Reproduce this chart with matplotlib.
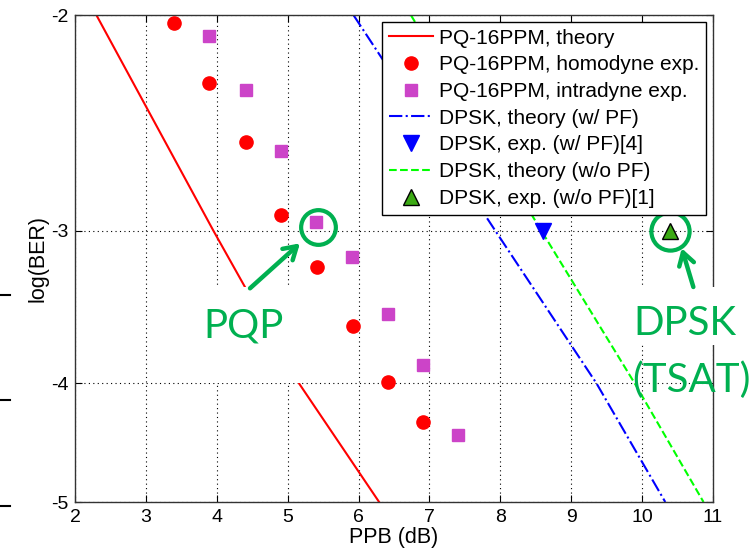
import numpy as np
import matplotlib
matplotlib.use('Agg')
import matplotlib.pyplot as plt
from matplotlib.patches import Rectangle
from matplotlib.lines import Line2D

plt.rcParams['font.family'] = ['Liberation Sans', 'DejaVu Sans']
plt.rcParams['axes.unicode_minus'] = False

# data
ppb_theory = [2.30, 3.95, 5.16, 6.29]
ber_theory = [-2, -3, -4, -5]
ppb_homo = [3.40, 3.89, 4.41, 4.91, 5.41, 5.92, 6.41, 6.91]
ber_homo = [-2.03, -2.27, -2.54, -2.91, -3.21, -3.59, -3.99, -4.30]
ppb_intra = [3.89, 4.41, 4.91, 5.40, 5.91, 6.41, 6.91, 7.40]
ber_intra = [-2.08, -2.30, -2.58, -2.95, -3.15, -3.51, -3.86, -4.41]
ppb_dpsk_pf = [5.93, 7.93, 9.36, 10.33]
ppb_dpsk_nopf = [6.74, 8.58, 9.90, 10.87]
ber_dpsk = [-2, -3, -4, -5]
ppb_exp_pf = [8.6]
ber_exp_pf = [-3.0]
ppb_exp_nopf = [10.4]
ber_exp_nopf = [-3.0]

xticks = [2, 3, 4, 5, 6, 7, 8, 9, 10, 11]
yticks = [-5, -4, -3, -2]

green = '#00B050'


def fwd(y):
    y = np.asarray(y, dtype=float)
    return -np.log10(np.clip(-y, 1e-9, None))


def inv(f):
    f = np.asarray(f, dtype=float)
    return -10.0 ** (-f)


fig = plt.figure(figsize=(7.55, 5.53), dpi=100)
ax = fig.add_axes([0.0997, 0.0922, 0.8443, 0.8801])
ax.set_yscale('function', functions=(fwd, inv))

ax.plot(ppb_theory, ber_theory, '-', color='red', lw=1.5, label='PQ-16PPM, theory', zorder=2)
ax.plot(ppb_homo, ber_homo, 'o', color='red', ms=9.5, mec='red', label='PQ-16PPM, homodyne exp.', zorder=4)
ax.plot(ppb_intra, ber_intra, 's', color='#CC44C8', ms=9, mec='#CC44C8', label='PQ-16PPM, intradyne exp.', zorder=4)
ax.plot(ppb_dpsk_pf, ber_dpsk, '-.', color='blue', lw=1.5, label='DPSK, theory (w/ PF)', zorder=2)
ax.plot(ppb_exp_pf, ber_exp_pf, 'v', color='blue', ms=11, mec='blue', label='DPSK, exp. (w/ PF)[4]', zorder=4)
ax.plot(ppb_dpsk_nopf, ber_dpsk, '--', color='#00FF00', lw=1.5, label='DPSK, theory (w/o PF)', zorder=2)
ax.plot(ppb_exp_nopf, ber_exp_nopf, '^', color='#3CAA14', ms=11, mec='black', mew=1,
        label='DPSK, exp. (w/o PF)[1]', zorder=4)

ax.set_xlim(2, 11)
ax.set_ylim(-5, -2)
ax.set_xticks(xticks)
ax.set_yticks(yticks)
ax.set_yticklabels([str(t) for t in yticks])
ax.minorticks_off()
ax.tick_params(direction='in', top=True, right=True, length=5, width=0.8,
               labelsize=14, pad=5, colors='black')
ax.grid(True, linestyle=(0, (1, 3)), color='black', lw=0.8)
for s in ax.spines.values():
    s.set_color('#333333')
    s.set_linewidth(1)

ax.set_xlabel('PPB (dB)', fontsize=15.5, labelpad=1)
ax.set_ylabel('log(BER)', fontsize=15.5, labelpad=2)

leg = ax.legend(loc='upper right', bbox_to_anchor=(0.9895, 0.9869), borderaxespad=0,
                fontsize=15, fancybox=False, edgecolor='black', framealpha=1,
                handlelength=2.1, handletextpad=0.3, labelspacing=0.37, borderpad=0.33,
                numpoints=1)
leg.get_frame().set_linewidth(1)
leg.set_zorder(10)

# white boxes of the overlaid notes
ax.add_patch(Rectangle((0.19, 0.2455), 0.165, 0.197, transform=ax.transAxes,
                       fc='white', ec='none', zorder=3))
ax.add_patch(Rectangle((0.862, 0.3226), 0.16, 0.1202, transform=ax.transAxes,
                       fc='white', ec='none', zorder=3, clip_on=False))

# circles round the highlighted points
ax.plot(ppb_intra[3] + 0.02, ber_intra[3] - 0.03, 'o', ms=25, mfc='none', mec=green, mew=3, zorder=6)
ax.plot(ppb_exp_nopf, ber_exp_nopf, 'o', ms=27.5, mfc='none', mec=green, mew=3, zorder=6,
        clip_on=False)

arrow = dict(arrowstyle='->,head_length=0.9,head_width=0.55', color=green, lw=3.2,
             shrinkA=0, shrinkB=0)
ax.annotate('', xy=(0.3525, 0.5315), xytext=(0.2741, 0.4391), xycoords='axes fraction',
            textcoords='axes fraction', arrowprops=arrow, zorder=7)
ax.annotate('', xy=(0.9514, 0.5213), xytext=(0.9696, 0.4418), xycoords='axes fraction',
            textcoords='axes fraction', arrowprops=arrow, zorder=7)

note = dict(color=green, fontsize=29, family=['Lato', 'DejaVu Sans'], transform=ax.transAxes,
            zorder=8, clip_on=False)
ax.text(0.2639, 0.3377, 'PQP', ha='center', va='baseline', **note)
ax.text(0.876, 0.343, 'DPSK', ha='left', va='baseline', **note)
ax.text(0.873, 0.2266, '(TSAT)', ha='left', va='baseline', **note)

# stray marks at the left edge of the slide
for yp in [295, 400, 505.7]:
    fig.add_artist(Line2D([0, 10 / 755], [(553 - yp) / 553] * 2, color='black', lw=1.5,
                          transform=fig.transFigure))

fig.savefig('out.png', dpi=100)
